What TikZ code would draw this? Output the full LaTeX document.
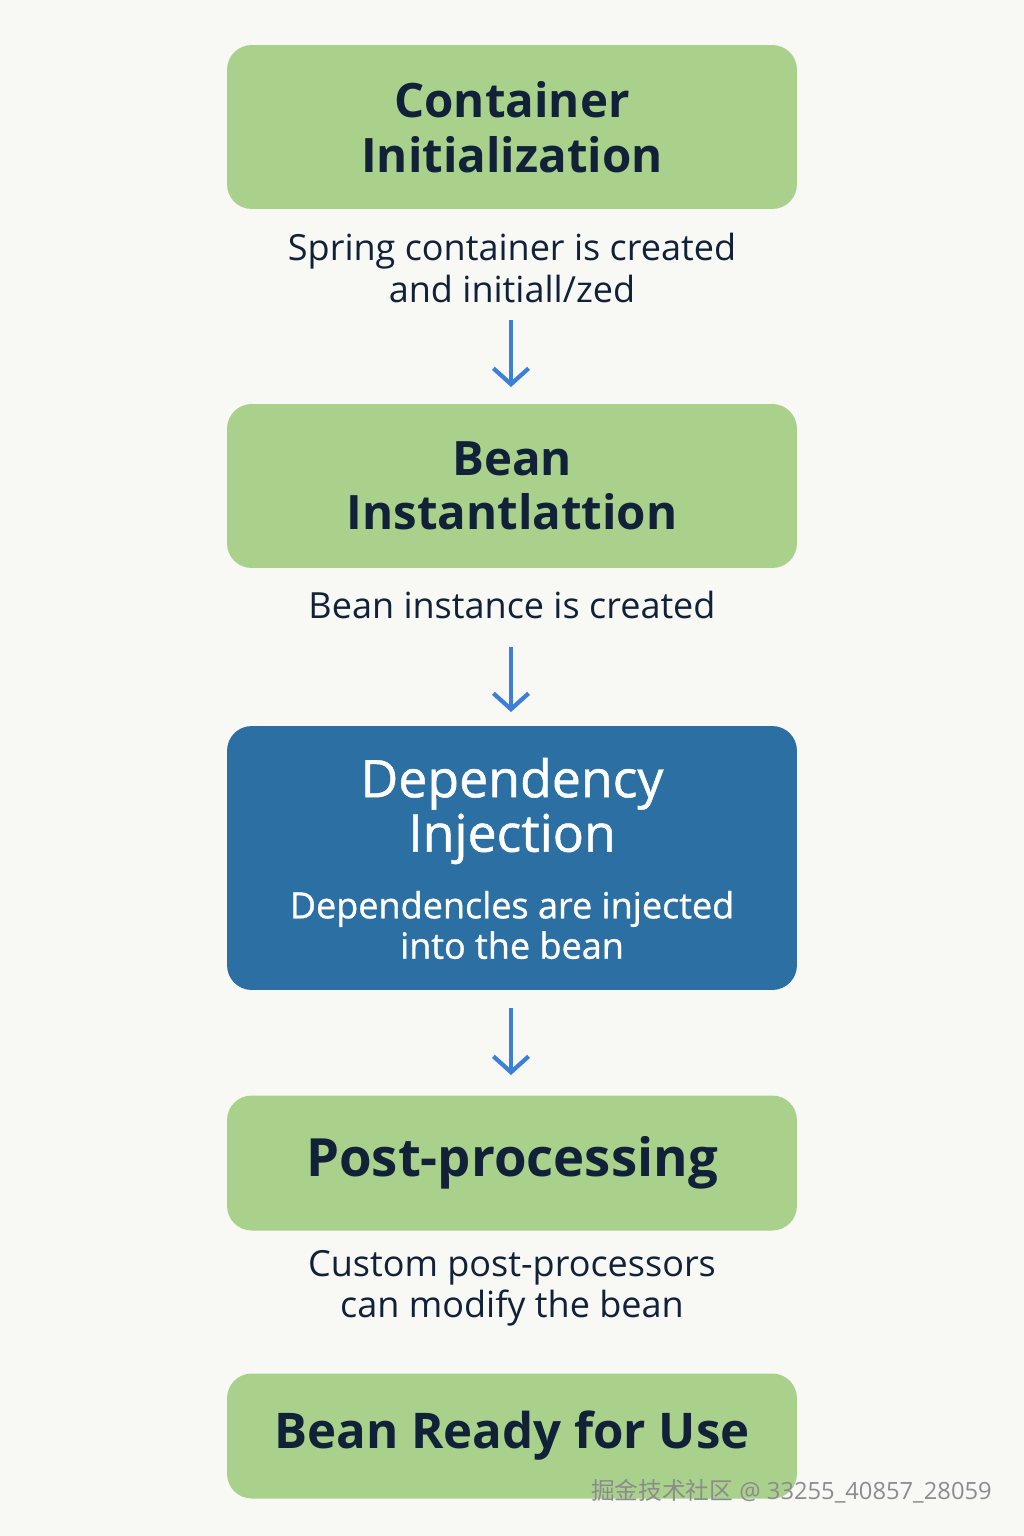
\documentclass[tikz,border=0pt]{standalone}
\usepackage{fontspec}
\setmainfont{Open Sans}
\newfontfamily\mediumfont{Open Sans}[FakeBold=0.9]
\newfontfamily\cjkfont{Noto Sans CJK SC}
\usetikzlibrary{arrows.meta}

\definecolor{stagegreen}{HTML}{A9D18C}
\definecolor{stageblue}{HTML}{2B6FA3}
\definecolor{inkdark}{HTML}{112238}
\definecolor{flowblue}{HTML}{3B80D6}
\definecolor{paper}{HTML}{F8F8F5}

\tikzset{
  stage/.style={rounded corners=14pt, fill=stagegreen, minimum width=11.4cm,
    text=inkdark, align=center, inner sep=0pt,
    font=\fontsize{27}{31}\selectfont\bfseries},
  keystage/.style={stage, fill=stageblue, text=white},
  note/.style={text=inkdark, align=center, inner sep=0pt,
    font=\fontsize{20.5}{23.5}\selectfont},
  flow/.style={flowblue, line width=2.4pt,
    -{Straight Barb[length=9pt,width=20pt,line width=2.4pt]}},
}

\begin{document}
\begin{tikzpicture}[x=0.02cm, y=-0.02cm]
  % page
  \fill[paper] (0,0) rectangle (1024,1536);

  % Stages
  \node[stage, minimum height=3.28cm] (init) at (512,127) {Container\\Initialization};
  \node[note] (initnote) at (512,268) {Spring container is created\\and initiall/zed};

  \node[stage, minimum height=3.28cm] (inst) at (512,486) {Bean\\Instantlattion};
  \node[note] (instnote) at (512,605) {Bean instance is created};

  \node[keystage, minimum height=5.28cm] (inject) at (512,858) {};
  \node[text=white, align=center, inner sep=0pt, font=\fontsize{29.5}{31}\mediumfont] (injtitle) at (512,811) {Dependency\\Injection};
  \node[text=white, align=center, inner sep=0pt, font=\fontsize{20.5}{23}\mediumfont] (injnote) at (512,925) {Dependencles are injected\\into the bean};

  \node[stage, minimum height=2.7cm, font=\fontsize{30}{31}\selectfont\bfseries] (post) at (512,1163) {Post-processing};
  \node[note] (postnote) at (512,1288) {Custom post-processors\\can modify the bean};

  \node[stage, minimum height=2.5cm, font=\fontsize{28}{31}\selectfont\bfseries] (ready) at (512,1436) {Bean Ready for Use};

  % Arrows
  \coordinate (a1) at (511,320);
  \coordinate (b1) at (511,387);
  \coordinate (a2) at (511,647);
  \coordinate (b2) at (511,712);
  \coordinate (a3) at (511,1008);
  \coordinate (b3) at (511,1075);
  \draw[flow] (a1) -- (b1);
  \draw[flow] (a2) -- (b2);
  \draw[flow] (a3) -- (b3);

  % watermark
  \node[anchor=east, text=black!45, inner sep=0pt, font=\fontsize{13.5}{16}\selectfont] (mark) at (992,1491)
    {{\cjkfont 掘金技术社区} @ 33255\_40857\_28059};
\end{tikzpicture}
\end{document}
